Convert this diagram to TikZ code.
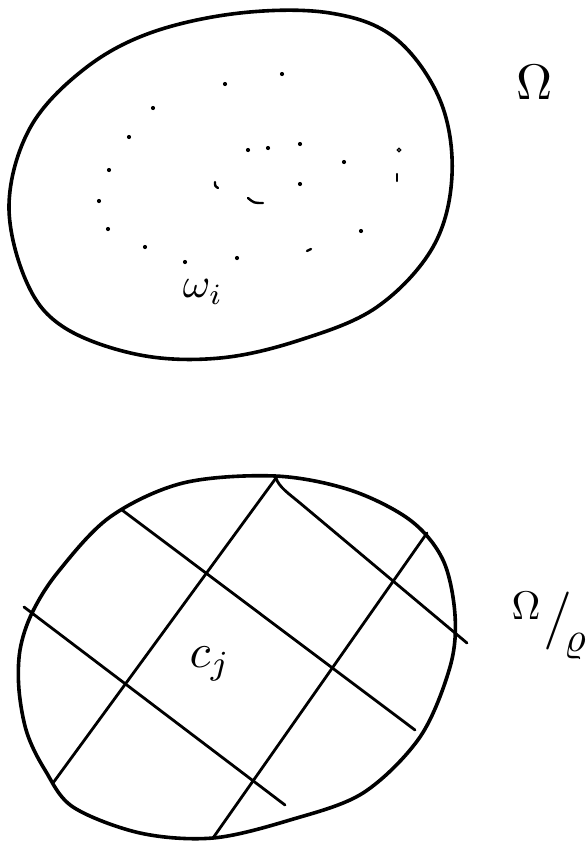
\documentclass[tikz,border=0pt]{standalone}
\usepackage{graphicx}
\usepackage{amsmath}
\begin{document}
\begin{tikzpicture}[x=1pt,y=-1pt,
  outline/.style={line width=3.6pt, line join=round},
  gridline/.style={line width=2.8pt, line cap=round},
  speck/.style={fill=black},
  penstroke/.style={line width=2.4pt, line cap=round},
  lbl/.style={inner sep=0pt}]
\useasboundingbox (0,0) rectangle (587,841);

% ---- top region Omega ----
\draw[outline] plot[smooth cycle, tension=0.6] coordinates {
  (9,205) (27,283) (65,328) (140,355) (220,358) (300,340) (377,307)
  (433,247) (452,175) (440,100) (395,38) (330,13) (240,13) (150,33)
  (83,70) (30,128)};

% dots
\foreach \p in {(225,84),(282,74),(153,108),(129,137),(109,170),(99,201),
  (108,229),(145,247),(185,262),(237,258),(248,150),(268,148),(300,144),
  (344,162),(300,184),(361,231)}
  \fill[speck] \p circle (2.1pt);
\draw[line width=1.3pt] (399,150) circle (1.7pt);
\draw[penstroke] (397,174) -- (397,181);
\draw[penstroke] (307,251) -- (311,249);
\draw[penstroke] (215,182) .. controls (215,186) .. (218,188);
\draw[penstroke] (248,198) .. controls (254,203) .. (263,203);

\node[lbl] (omegai) at (203,292) {\scalebox{4.2}{$\omega_{i}$}};
\node[lbl] (Omega) at (535,82) {\scalebox{5}{$\Omega$}};

% ---- bottom region Omega / rho ----
\draw[outline] plot[smooth cycle, tension=0.55] coordinates {
  (20,650) (19,690) (27,733) (45,770) (73,807) (140,833) (213,838)
  (290,820) (363,793) (420,737) (450,667) (455,615) (443,560) (410,520)
  (350,490) (275,476) (183,483) (110,517) (58,572) (32,613)};

\coordinate (D1) at (53,783);   \coordinate (D2) at (276,478);
\coordinate (E1) at (213,838);  \coordinate (E2) at (427,533);
\coordinate (A1) at (122,510);  \coordinate (A2) at (415,730);
\coordinate (B1) at (276,478);  \coordinate (B2) at (467,643);
\coordinate (C1) at (24,607);   \coordinate (C2) at (285,805);

\draw[gridline] (D1) -- (D2);
\draw[gridline] (E1) -- (E2);
\draw[gridline] (A1) -- (A2);
\draw[gridline] (B1) .. controls (279,487) and (288,493) .. (300,503) -- (B2);
\draw[gridline] (C1) -- (C2);

\node[lbl] (cj) at (210,664) {\scalebox{4.8}{$c_{j}$}};

\node[lbl] (Omega2) at (526,606) {\scalebox{4}{$\Omega$}};
\node[lbl] (slash) at (558,621) {\scalebox{5.8}{/}};
\node[lbl] (rho) at (575,647) {\scalebox{4.2}{$\varrho$}};
\end{tikzpicture}
\end{document}
